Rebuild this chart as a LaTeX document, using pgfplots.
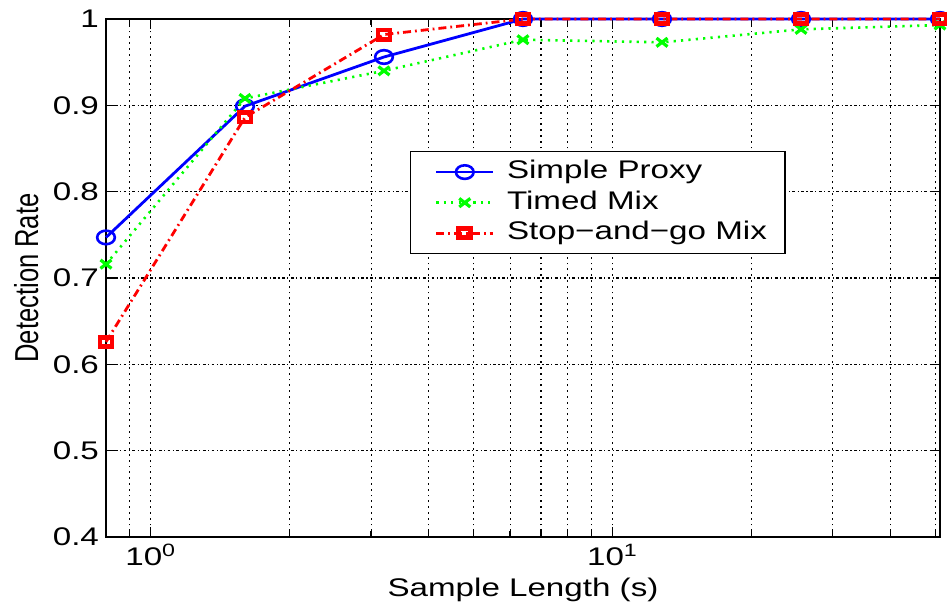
\documentclass[border=0pt]{standalone}
\usepackage{fontspec}
\setmainfont{Liberation Sans}[FakeStretch=1.3]
\newfontfamily\ylabfont{Liberation Sans}[FakeStretch=0.77]
\usepackage{pgfplots}
\pgfplotsset{compat=1.18}
\definecolor{mblue}{rgb}{0,0,1}
\definecolor{mgreen}{rgb}{0,1,0}
\definecolor{mred}{rgb}{1,0,0}
\begin{document}
\begin{tikzpicture}[font=\fontsize{12.75pt}{15pt}\selectfont]
\begin{axis}[
  name=ax,
  xmode=log,
  scale only axis, width=417pt, height=259pt,
  xmin=0.8, xmax=51.2, ymin=0.4, ymax=1,
  xtick={1,10}, xticklabels={10\textsuperscript{0},10\textsuperscript{1}},
  minor xtick={0.8,0.9,2,3,4,5,6,7,8,9,20,30,40,50},
  ytick={0.4,0.5,0.6,0.7,0.8,0.9,1},
  /pgf/number format/assume math mode=true,
  xmajorgrids, xminorgrids, ymajorgrids,
  major x grid style={black, line width=0.55pt, dash pattern=on 0.9pt off 2pt},
  minor x grid style={black, line width=0.55pt, dash pattern=on 0.9pt off 2pt},
  major y grid style={black, line width=0.55pt, dash pattern=on 1.4pt off 1.2pt on 0.6pt off 1.2pt},
  axis line style={black, line width=0.7pt},
  tick style={black, line width=0.6pt},
  major tick length=5pt, minor tick length=3pt,
  tick align=inside,
  clip=false,
  xlabel={Sample Length (s)},
  ylabel={Detection Rate},
  xlabel style={at={(axis description cs:0.5,0)}, anchor=base, yshift=-30pt},
  ylabel style={font=\ylabfont\fontsize{16.6pt}{18pt}\selectfont, at={(axis description cs:-0.0815,0.5)}, anchor=base},
  legend style={at={(axis description cs:0.3645,0.745)}, anchor=north west,
    draw=black, line width=0.7pt, fill=white, inner xsep=5pt, inner ysep=2.5pt,
    nodes={inner xsep=4pt, inner ysep=1.5pt, text height=9.4pt, text depth=2.9pt},
    column sep=2.2pt},
  legend cell align=left,
  legend image code/.code={
    \path (0cm,0cm);
    \draw[mark repeat=2,mark phase=2] plot coordinates {(0.25cm,0cm) (0.75cm,0cm) (1.25cm,0cm)};
  },
]
\addplot[mblue, line width=1.4pt, mark=o, mark size=3.4pt,
  mark options={solid, xscale=1.3, line width=1.3pt}]
  coordinates {(0.8,0.747) (1.6,0.899) (3.2,0.956) (6.4,1.0) (12.8,1.0) (25.6,1.0) (51.2,1.0)};
\addlegendentry{Simple Proxy}
\addplot[mgreen, line width=1.3pt, dash pattern=on 1.1pt off 2.6pt, mark=x, mark size=3pt,
  mark options={solid, xscale=1.3, line width=1.6pt}]
  coordinates {(0.8,0.716) (1.6,0.908) (3.2,0.940) (6.4,0.976) (12.8,0.973) (25.6,0.988) (51.2,0.993)};
\addlegendentry{Timed Mix}
\addplot[mred, line width=1.4pt, dash pattern=on 4pt off 2pt on 0.9pt off 2pt, mark=square, mark size=2.3pt,
  mark options={solid, xscale=1.3, line width=2.4pt}]
  coordinates {(0.8,0.626) (1.6,0.886) (3.2,0.982) (6.4,1.0) (12.8,1.0) (25.6,1.0) (51.2,1.0)};
\addlegendentry{Stop−and−go Mix}
\end{axis}
\pgfresetboundingbox
\path ([xshift=-53pt,yshift=-36pt]ax.south west) rectangle ([xshift=3.5pt,yshift=9.5pt]ax.north east);
\end{tikzpicture}
\end{document}
